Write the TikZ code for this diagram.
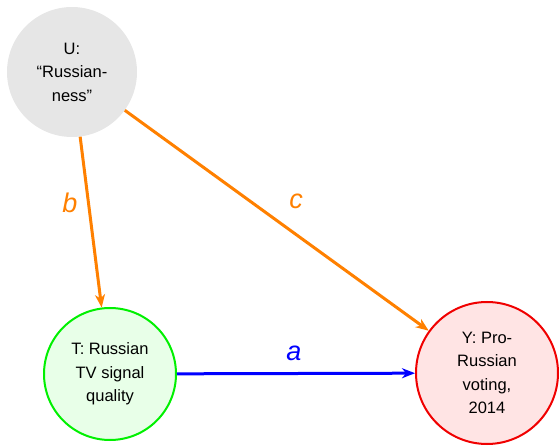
\documentclass[tikz,border=0pt]{standalone}
\usepackage{fontspec}
\setmainfont{Liberation Sans}
\usetikzlibrary{arrows.meta}
\definecolor{uorange}{RGB}{255,128,0}
\definecolor{ugray}{RGB}{230,230,230}
\definecolor{tgreen}{RGB}{0,240,0}
\definecolor{tfill}{RGB}{232,255,232}
\definecolor{yred}{RGB}{240,0,0}
\definecolor{yfill}{RGB}{255,228,228}
\begin{document}
\begin{tikzpicture}[x=1pt,y=-1pt,
  var/.style={circle,inner sep=0pt,align=center,
    font=\fontsize{16.5}{23.5}\selectfont},
  effect/.style={line width=3pt,
    -{Stealth[length=13pt,width=10pt,inset=4pt]}},
  coef/.style={font=\fontsize{27}{30}\selectfont\itshape}]
  \useasboundingbox (0,0) rectangle (560,446);
  % variables
  \node[var,fill=ugray,minimum size=130pt] (U) at (72,72) {U:\\“Russian-\\ness”};
  \node[var,draw=tgreen,line width=2pt,fill=tfill,minimum size=132pt] (T) at (110,374) {T: Russian\\TV signal\\quality};
  \node[var,draw=yred,line width=2pt,fill=yfill,minimum size=142pt] (Y) at (487,373) {Y: Pro-\\Russian\\voting,\\2014};
  % causal paths
  \draw[effect,uorange] (U) -- (T);
  \draw[effect,uorange] (U) -- (Y);
  \draw[effect,blue] (T) -- (Y);
  % path coefficients
  \node[coef,text=uorange] (lb) at (70,203) {b};
  \node[coef,text=uorange] (lc) at (296,201) {c};
  \node[coef,text=blue] (la) at (294,353) {a};
\end{tikzpicture}
\end{document}
